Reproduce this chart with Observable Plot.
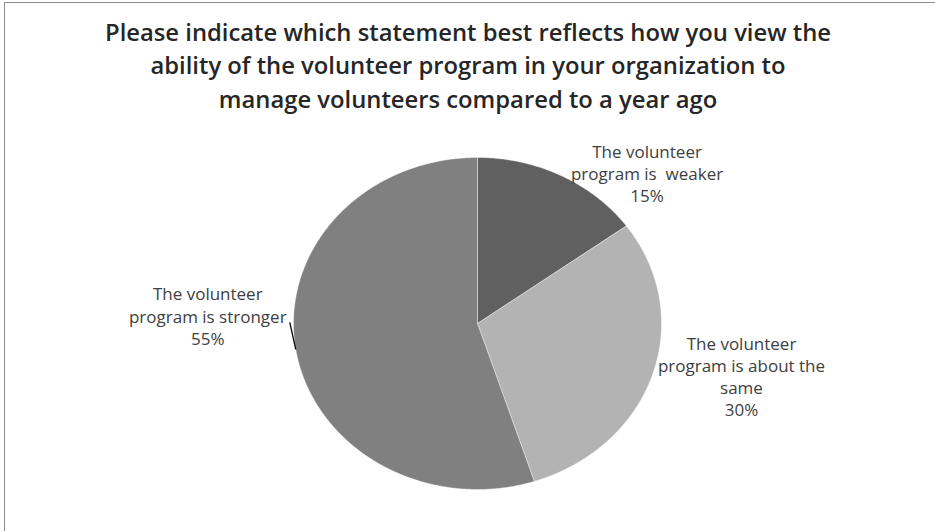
<!DOCTYPE html>
<html>
<head>
<meta charset="utf-8">
<script src="https://cdn.jsdelivr.net/npm/d3@7"></script>
<script src="https://cdn.jsdelivr.net/npm/@observablehq/plot@0.6"></script>
<style>
  html, body { margin: 0; padding: 0; background: #fff; }
  #wrap { position: relative; width: 935px; height: 531px; overflow: hidden; }
  #border { position: absolute; left: 4px; top: 2px; right: -10px; bottom: -10px;
            border-top: 1.5px solid #8c8c8c; border-left: 1.5px solid #8c8c8c; pointer-events: none; }
  svg { display: block; }
</style>
</head>
<body>
<div id="wrap"><div id="border"></div></div>
<script>
// ---- data ----
const titleText = "Please indicate which statement best reflects how you view the\nability of the volunteer program in your organization to\nmanage volunteers compared to a year ago";
const categories = ["The volunteer\nprogram is  weaker", "The volunteer\nprogram is about the\nsame", "The volunteer\nprogram is stronger"];
const values = [15, 30, 55];
const percentLabels = ["15%", "30%", "55%"];
const colors = ["#606060", "#b3b3b3", "#808080"];

// ---- layout (pixels, not data) ----
const labelDx = [86, 89, -88];
const labelDy = [-3, 1, -34];

// ---- geometry from data ----
const pie = d3.pie().sort(null).value(d => d)(values);
const slices = [];
pie.forEach((p, i) => {
  slices.push({i, x: 0, y: 0});
  const n = Math.max(2, Math.ceil((p.endAngle - p.startAngle) / (Math.PI / 360)));
  for (let k = 0; k <= n; k++) {
    const a = p.startAngle + (p.endAngle - p.startAngle) * k / n;
    slices.push({i, x: Math.sin(a), y: Math.cos(a)});
  }
  slices.push({i, x: 0, y: 0});
});
const labels = pie.map((p, i) => {
  const a = (p.startAngle + p.endAngle) / 2;
  return {i, x: Math.sin(a), y: Math.cos(a), text: categories[i] + "\n" + percentLabels[i]};
});
const lead = labels[2];
const leader = [{x1: lead.x - 6 / 184, y1: lead.y + 27 / 166, x2: lead.x, y2: lead.y}];

const cx = 477, cy = 323, rx = 184, ry = 166;
const chart = Plot.plot({
  width: 935,
  height: 531,
  margin: 0,
  style: {background: "transparent"},
  x: {domain: [-1, 1], range: [cx - rx, cx + rx], axis: null},
  y: {domain: [-1, 1], range: [cy + ry, cy - ry], axis: null},
  marks: [
    Plot.line(slices, {x: "x", y: "y", z: "i", fill: d => colors[d.i], stroke: "#ffffff", strokeWidth: 0.4, curve: "linear"}),
    Plot.link(leader, {x1: "x1", y1: "y1", x2: "x2", y2: "y2", stroke: "#000", strokeWidth: 1.3}),
    ...labels.map((d, i) => Plot.text([d], {
      x: "x", y: "y", text: "text", dx: labelDx[i], dy: labelDy[i],
      fontSize: 17, lineHeight: 1.3, lineAnchor: "middle", textAnchor: "middle",
      fill: "#404040", fontFamily: "Open Sans"
    })),
    Plot.text([titleText], {
      frameAnchor: "top", dy: 16, text: d => d, fontSize: 23.8, fontWeight: 600,
      lineHeight: 1.42, lineAnchor: "top", textAnchor: "middle", fill: "#262626", fontFamily: "Open Sans"
    })
  ]
});
chart.style.position = "absolute";
chart.style.left = "0px";
chart.style.top = "0px";
document.getElementById("wrap").prepend(chart);
</script>
</body>
</html>
